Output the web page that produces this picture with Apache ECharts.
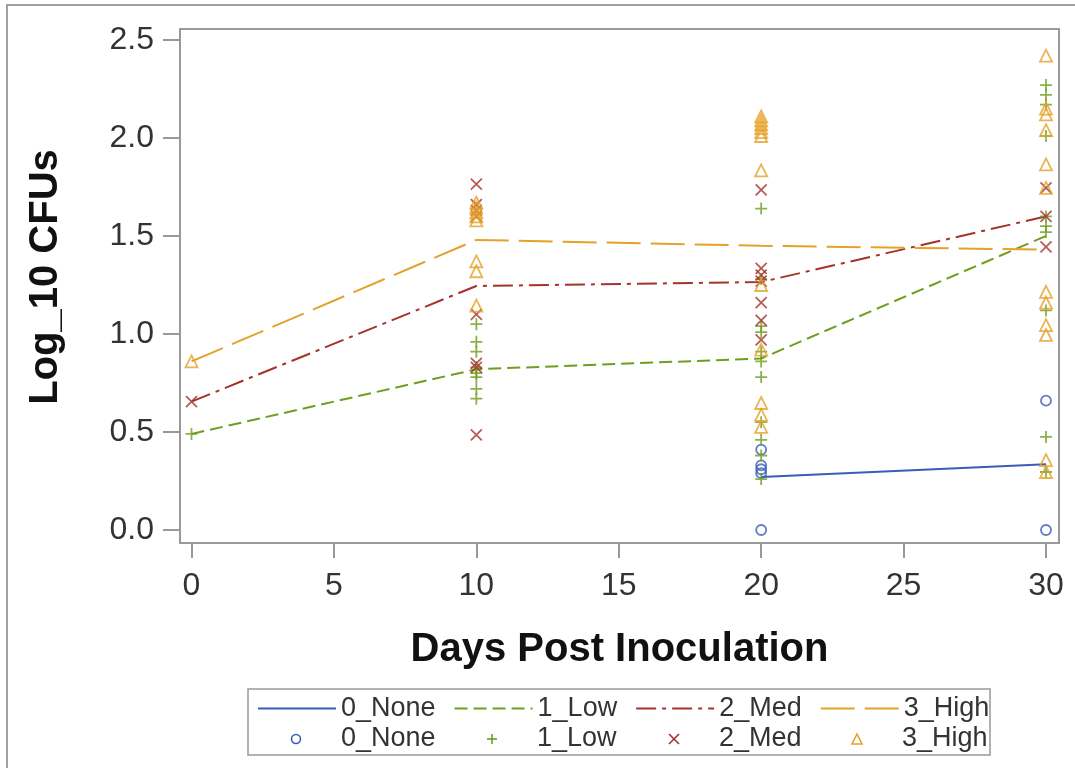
<!DOCTYPE html>
<html>
<head>
<meta charset="utf-8">
<script src="https://cdn.jsdelivr.net/npm/echarts@6/dist/echarts.min.js"></script>
<style>
html,body{margin:0;padding:0;background:#fff;}
#c{width:1075px;height:768px;}
</style>
</head>
<body>
<div id="c"></div>
<script>
// ---- data ----
const days = [0, 10, 20, 30];
const groups = ['0_None', '1_Low', '2_Med', '3_High'];
const xTicks = [0, 5, 10, 15, 20, 25, 30];
const yTicks = [0, 0.5, 1.0, 1.5, 2.0, 2.5];

// mean lines (per day, null = no value)
const noneMean = [null, null, 0.27, 0.335];
const lowMean  = [0.49, 0.82, 0.875, 1.50];
const medMean  = [0.655, 1.245, 1.265, 1.60];
const highMean = [0.86, 1.48, 1.45, 1.43];

// observations per day (index follows `days`)
const noneObs = [[], [], [0.41, 0.33, 0.31, 0.29, 0.0], [0.66, 0.0]];
const lowObs = [
  [0.49],
  [1.05, 0.96, 0.91, 0.83, 0.80, 0.78, 0.72, 0.67],
  [1.64, 1.28, 1.04, 1.01, 0.91, 0.86, 0.78, 0.55, 0.46, 0.38, 0.26],
  [2.27, 2.22, 2.17, 2.01, 1.60, 1.55, 1.52, 1.12, 0.475, 0.296]
];
const medObs = [
  [0.655],
  [1.765, 1.66, 1.63, 1.60, 1.10, 0.85, 0.83, 0.485],
  [1.735, 1.335, 1.30, 1.27, 1.16, 1.07, 0.97],
  [1.745, 1.60, 1.445]
];
const highObs = [
  [0.86],
  [1.67, 1.645, 1.62, 1.60, 1.58, 1.37, 1.32, 1.145],
  [2.11, 2.09, 2.07, 2.05, 2.03, 2.01, 1.835, 1.25, 0.92, 0.648, 0.587, 0.526],
  [2.42, 2.15, 2.12, 2.04, 1.865, 1.745, 1.215, 1.16, 1.045, 0.995, 0.357, 0.296]
];

// ---- styling ----
const colors = ['#3b5cb8', '#6f9e1e', '#a3342c', '#e5a128'];
const dashes = ['solid', [13, 6], [20, 6, 4, 6], [34, 10]];
const plusPath = 'path://M0,5L10,5M5,0L5,10';
const crossPath = 'path://M0,0L10,10M10,0L0,10';
const markerSymbols = ['circle', plusPath, crossPath, 'triangle'];
const markerSizes = [10, 12, 11, 12];
const FONT = '"Liberation Sans", Arial, Helvetica, sans-serif';

const means = [noneMean, lowMean, medMean, highMean];
const obs = [noneObs, lowObs, medObs, highObs];

function meanData(m) {
  const out = [];
  days.forEach((d, i) => { if (m[i] !== null) out.push([d, m[i]]); });
  return out;
}
function obsData(o) {
  const out = [];
  days.forEach((d, i) => o[i].forEach(v => out.push([d, v])));
  return out;
}

const series = [];
groups.forEach((g, k) => {
  series.push({
    name: g,
    type: 'line',
    data: meanData(means[k]),
    symbol: 'none',
    showSymbol: false,
    silent: true,
    z: 2,
    itemStyle: { color: colors[k] },
    lineStyle: { color: colors[k], width: 2, type: dashes[k] }
  });
});
groups.forEach((g, k) => {
  series.push({
    name: 's' + g,
    type: 'scatter',
    data: obsData(obs[k]),
    symbol: markerSymbols[k],
    symbolSize: markerSizes[k],
    silent: true,
    z: 3,
    itemStyle: { color: 'rgba(0,0,0,0)', borderColor: colors[k], borderWidth: 1.8 }
  });
});

// ---- legend row 2 (marker entries) drawn as graphics, aligned to row 1 ----
const legendItemStarts = [257, 453, 635, 818];
const legRow2Y = 739;
const legendGraphics = [];
groups.forEach((g, k) => {
  const cx = legendItemStarts[k] + 39;
  const c = colors[k];
  const st = { stroke: c, lineWidth: 1.6, fill: 'none' };
  if (k === 0) {
    legendGraphics.push({ type: 'circle', silent: true, shape: { cx: cx, cy: legRow2Y, r: 4.5 }, style: st });
  } else if (k === 1) {
    legendGraphics.push({ type: 'line', silent: true, shape: { x1: cx - 5, y1: legRow2Y, x2: cx + 5, y2: legRow2Y }, style: st });
    legendGraphics.push({ type: 'line', silent: true, shape: { x1: cx, y1: legRow2Y - 5, x2: cx, y2: legRow2Y + 5 }, style: st });
  } else if (k === 2) {
    legendGraphics.push({ type: 'line', silent: true, shape: { x1: cx - 5, y1: legRow2Y - 5, x2: cx + 5, y2: legRow2Y + 5 }, style: st });
    legendGraphics.push({ type: 'line', silent: true, shape: { x1: cx + 5, y1: legRow2Y - 5, x2: cx - 5, y2: legRow2Y + 5 }, style: st });
  } else {
    legendGraphics.push({ type: 'polygon', silent: true,
      shape: { points: [[cx, legRow2Y - 5], [cx + 5, legRow2Y + 5], [cx - 5, legRow2Y + 5]] }, style: st });
  }
  legendGraphics.push({ type: 'text', silent: true, x: legendItemStarts[k] + 84, y: legRow2Y,
    style: { text: g, font: '27px ' + FONT, fill: '#333', textVerticalAlign: 'middle' } });
});

const chart = echarts.init(document.getElementById('c'), null, { renderer: 'canvas' });
chart.setOption({
  animation: false,
  backgroundColor: '#fff',
  grid: {
    left: 180, right: 16, top: 29, bottom: 225,
    show: true, borderColor: '#999', borderWidth: 2, backgroundColor: 'transparent'
  },
  xAxis: {
    type: 'value',
    min: -0.404, max: 30.456,
    name: 'Days Post Inoculation',
    nameLocation: 'middle',
    nameGap: 87,
    nameTextStyle: { fontFamily: FONT, fontSize: 40, fontWeight: 'bold', color: '#111' },
    axisLine: { show: true, onZero: false, lineStyle: { color: '#999', width: 2 } },
    axisTick: { show: true, inside: false, customValues: xTicks, length: 15, lineStyle: { color: '#999', width: 2 } },
    axisLabel: { customValues: xTicks, margin: 27, fontFamily: FONT, fontSize: 32, color: '#333' },
    splitLine: { show: false }
  },
  yAxis: {
    type: 'value',
    min: -0.0663, max: 2.556,
    axisLine: { show: true, onZero: false, lineStyle: { color: '#999', width: 2 } },
    axisTick: { show: true, inside: false, customValues: yTicks, length: 17, lineStyle: { color: '#999', width: 2 } },
    axisLabel: {
      customValues: yTicks, margin: 26, fontFamily: FONT, fontSize: 32, color: '#333',
      formatter: v => v.toFixed(1)
    },
    splitLine: { show: false }
  },
  legend: {
    orient: 'horizontal',
    left: 257,
    top: 695,
    itemWidth: 78,
    itemHeight: 14,
    itemGap: 18,
    padding: 0,
    selectedMode: false,
    itemStyle: { opacity: 0 },
    textStyle: { fontFamily: FONT, fontSize: 27, color: '#333' },
    data: groups
  },
  graphic: [
    { type: 'rect', silent: true, shape: { x: 7, y: 5, width: 1200, height: 900 },
      style: { fill: 'none', stroke: '#a0a0a0', lineWidth: 2 } },
    { type: 'rect', silent: true, shape: { x: 248, y: 689, width: 742, height: 66 },
      style: { fill: 'none', stroke: '#999', lineWidth: 1.5 } },
    { type: 'text', silent: true, x: 46, y: 277, rotation: Math.PI / 2,
      style: { text: 'Log_10 CFUs', font: 'bold 40px ' + FONT, fill: '#111',
               textAlign: 'center', textVerticalAlign: 'middle' } }
  ].concat(legendGraphics),
  series: series
});
</script>
</body>
</html>
